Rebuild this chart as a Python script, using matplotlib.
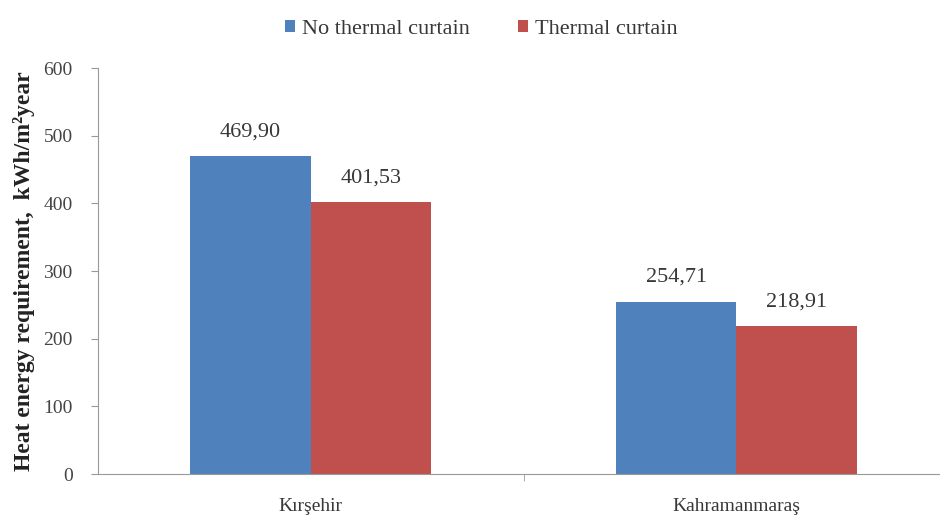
import matplotlib.pyplot as plt
import numpy as np

plt.rcParams['font.family'] = ['Liberation Serif', 'DejaVu Serif']

cities = ['Kırşehir', 'Kahramanmaraş']
no_curtain = [469.90, 254.71]
curtain = [401.53, 218.91]
series_names = ['No thermal curtain', 'Thermal curtain']

fig = plt.figure(figsize=(9.4, 5.15), dpi=100)
ax = fig.add_axes([0.104, 0.0796, 0.906, 0.788])

x = np.arange(len(cities))
w = 0.283
b1 = ax.bar(x - w/2, no_curtain, w, color='#4F81BD', label=series_names[0])
b2 = ax.bar(x + w/2, curtain, w, color='#C0504D', label=series_names[1])

# value labels with comma decimals
for bars, vals in [(b1, no_curtain), (b2, curtain)]:
    for r, v in zip(bars, vals):
        ax.text(r.get_x() + r.get_width()/2, v + 22, f'{v:.2f}'.replace('.', ','),
                ha='center', va='bottom', fontsize=16, color='#383838')

ax.set_xlim(-0.5, 1.5)
ax.set_ylim(0, 600)
ax.set_yticks(range(0, 601, 100))
ax.set_xticks(x)
ax.set_xticklabels(cities)
ax.set_xticks([0.5], minor=True)
ax.tick_params(axis='x', which='major', length=0, pad=17, labelsize=14, labelcolor='#383838')
ax.tick_params(axis='x', which='minor', length=5, color='#999999', direction='out')
ax.tick_params(axis='y', length=5, color='#999999', labelsize=14, labelcolor='#444444', pad=13)

for s in ['top', 'right']:
    ax.spines[s].set_visible(False)
ax.spines['left'].set_color('#999999')
ax.spines['bottom'].set_color('#999999')

ax.set_ylabel('Heat energy requirement,  kWh/m²year', fontweight='bold', fontsize=17,
              color='#222222', labelpad=6)

fig.legend(handles=[b1, b2], loc='upper center', bbox_to_anchor=(0.512, 1.0), ncol=2,
           frameon=False, fontsize=16, handlelength=0.45, handleheight=0.45,
           handletextpad=0.3, columnspacing=2.2, labelcolor='#383838')

fig.savefig('out.png', dpi=100)
